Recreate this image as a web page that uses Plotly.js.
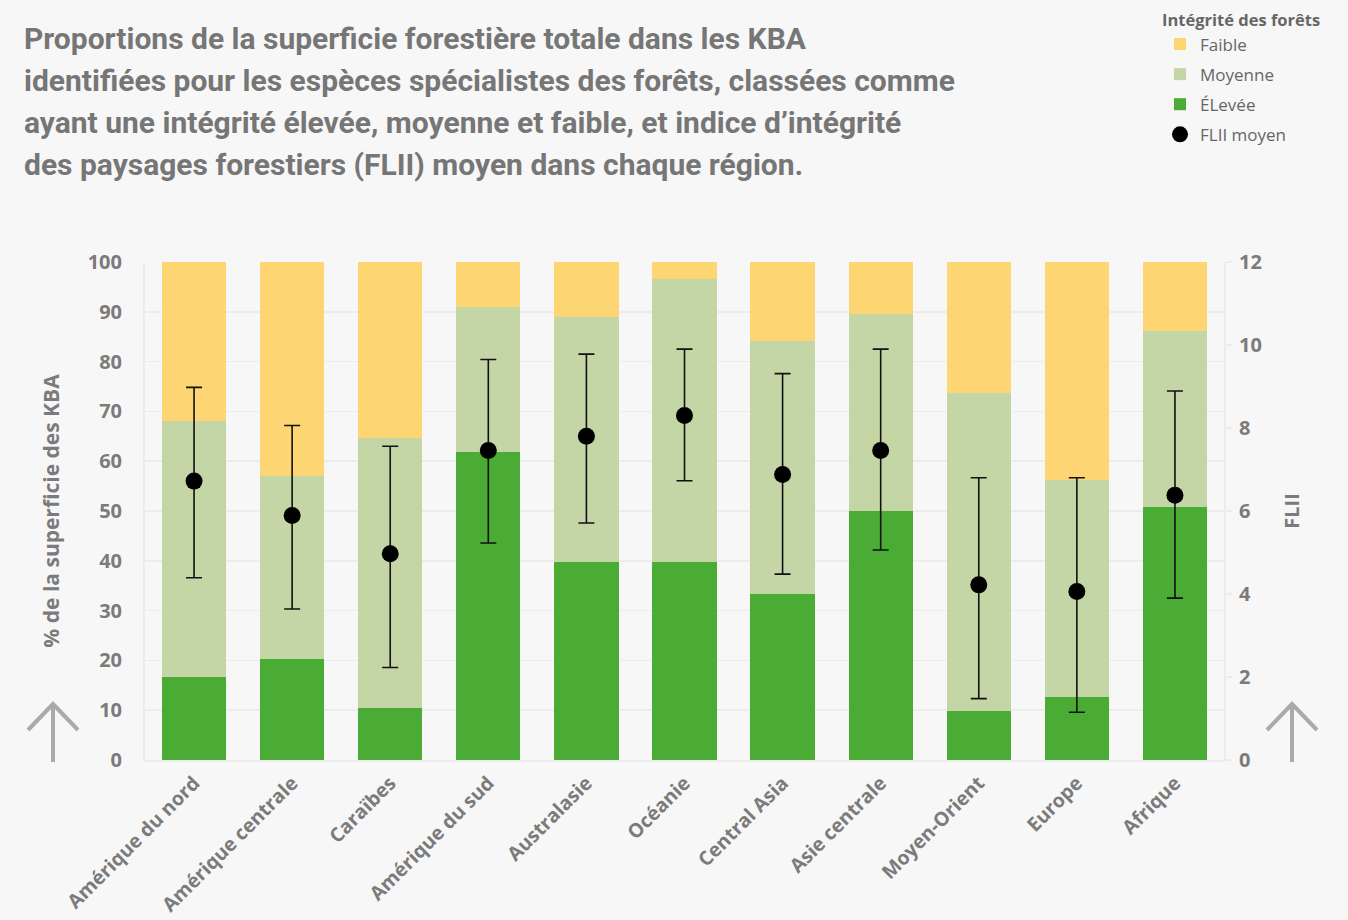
<!DOCTYPE html>
<html>
<head>
<meta charset="utf-8">
<script src="https://cdn.plot.ly/plotly-3.0.1.min.js"></script>
<style>
  html, body { margin: 0; padding: 0; background: #f7f7f7; }
  #chart { width: 1348px; height: 920px; }
</style>
</head>
<body>
<div id="chart"></div>
<script>
// ---- Data ----
const regions = ['Amérique du nord', 'Amérique centrale', 'Caraïbes', 'Amérique du sud', 'Australasie', 'Océanie', 'Central Asia', 'Asie centrale', 'Moyen-Orient', 'Europe', 'Afrique'];
const elevee  = [16.7, 20.3, 10.5, 61.9, 39.7, 39.7, 33.4, 50.1, 9.8, 12.7, 50.8];
const moyenne = [51.4, 36.8, 54.2, 29.1, 49.3, 56.9, 50.7, 39.5, 63.9, 43.6, 35.4];
const faible  = [31.9, 42.9, 35.3, 9.0, 11.0, 3.4, 15.9, 10.4, 26.3, 43.7, 13.8];
const flii      = [6.72, 5.89, 4.97, 7.46, 7.80, 8.30, 6.88, 7.46, 4.22, 4.06, 6.38];
const fliiHigh  = [8.98, 8.06, 7.56, 9.65, 9.78, 9.90, 9.31, 9.90, 6.80, 6.80, 8.89];
const fliiLow   = [4.39, 3.64, 2.23, 5.23, 5.71, 6.73, 4.48, 5.06, 1.48, 1.15, 3.90];
const titleLines = [
  'Proportions de la superficie forestière totale dans les KBA',
  'identifiées pour les espèces spécialistes des forêts, classées comme',
  'ayant une intégrité élevée, moyenne et faible, et indice d’intégrité',
  'des paysages forestiers (FLII) moyen dans chaque région.'
];
const leftTicks = [0, 10, 20, 30, 40, 50, 60, 70, 80, 90, 100];
const rightTicks = [0, 2, 4, 6, 8, 10, 12];

// ---- Styles ----
const FONT = '"Open Sans", "Noto Sans", sans-serif';
const TITLE_FONT = 'Roboto, "Open Sans", sans-serif';
const GREY = '#7b7b7b';

const errPlus = flii.map((v, i) => +(fliiHigh[i] - v).toFixed(3));
const errMinus = flii.map((v, i) => +(v - fliiLow[i]).toFixed(3));

const traces = [
  { type: 'bar', name: 'ÉLevée', x: regions, y: elevee, marker: { color: '#4aab35' }, legendrank: 3, legendgroup: 'c', hoverinfo: 'y' },
  { type: 'bar', name: 'Moyenne', x: regions, y: moyenne, marker: { color: '#c5d6a6' }, legendrank: 2, legendgroup: 'b', hoverinfo: 'y' },
  { type: 'bar', name: 'Faible', x: regions, y: faible, marker: { color: '#fdd673' }, legendrank: 1, legendgroup: 'a', hoverinfo: 'y' },
  {
    type: 'scatter', mode: 'markers', name: 'FLII moyen', x: regions, y: flii, yaxis: 'y2',
    marker: { color: '#000000', size: 17 },
    error_y: { type: 'data', symmetric: false, array: errPlus, arrayminus: errMinus, color: '#111111', thickness: 1.6, width: 8 },
    legendrank: 4, legendgroup: 'd'
  }
];

// Pixel -> paper helpers for the fixed plot frame
const plotLeft = 145, plotRight = 1224, plotTop = 262, plotBottom = 760;
const plotW = plotRight - plotLeft, plotH = plotBottom - plotTop;
const px = v => (v - plotLeft) / plotW;
const py = v => (plotBottom - v) / plotH;

const lineCentres = [38.5, 80.5, 122.5, 164.5];
const annotations = titleLines.map((t, i) => ({
  text: t, xref: 'paper', yref: 'paper',
  x: px(22), xanchor: 'left',
  y: py(lineCentres[i]), yanchor: 'middle',
  showarrow: false, align: 'left',
  font: { family: TITLE_FONT, size: 30, color: '#767676', weight: 700 }
}));

function arrowPath(cx, apexY, armDx, armY, bottomY) {
  return `M ${px(cx)} ${py(bottomY)} L ${px(cx)} ${py(apexY)} M ${px(cx - armDx)} ${py(armY)} L ${px(cx)} ${py(apexY)} L ${px(cx + armDx)} ${py(armY)}`;
}
const shapes = [
  { type: 'path', xref: 'paper', yref: 'paper', path: arrowPath(53, 704, 25, 730, 762), line: { color: '#aaaaaa', width: 4 } },
  { type: 'path', xref: 'paper', yref: 'paper', path: arrowPath(1292, 704, 25, 730, 762), line: { color: '#aaaaaa', width: 4 } }
];

const layout = {
  width: 1348, height: 920,
  paper_bgcolor: '#f7f7f7', plot_bgcolor: '#f7f7f7',
  margin: { l: plotLeft, r: 1348 - plotRight, t: plotTop, b: 920 - plotBottom },
  barmode: 'stack', bargap: 0.345,
  showlegend: true,
  font: { family: FONT, color: GREY },
  legend: {
    xref: 'paper', yref: 'container', x: px(1160), xanchor: 'left', y: 1 - 5 / 920, yanchor: 'top',
    traceorder: 'grouped', tracegroupgap: 5,
    title: { text: 'Intégrité des forêts', font: { family: FONT, size: 16.5, color: '#666666', weight: 700 } },
    font: { family: FONT, size: 17, color: '#666666' },
    bgcolor: 'rgba(0,0,0,0)', itemwidth: 30
  },
  xaxis: {
    type: 'category', range: [-0.5, regions.length - 0.5], tickangle: -45, automargin: false,
    tickfont: { family: FONT, size: 19.5, color: GREY, weight: 700 },
    showline: true, linecolor: '#ececec', linewidth: 2,
    ticks: '', ticklabelstandoff: 2, showgrid: false, zeroline: false
  },
  yaxis: {
    range: [0, 100], tickvals: leftTicks, ticktext: leftTicks.map(String), automargin: false,
    tickfont: { family: FONT, size: 20, color: GREY, weight: 700 },
    showgrid: true, gridcolor: '#ececec', gridwidth: 1.5,
    showline: true, linecolor: '#ececec', linewidth: 2, zeroline: false,
    ticks: '', ticklabelstandoff: 17,
    title: { text: '% de la superficie des KBA', font: { family: FONT, size: 21, color: GREY, weight: 700 }, standoff: 22 }
  },
  yaxis2: {
    overlaying: 'y', side: 'right', range: [0, 12], tickvals: rightTicks, ticktext: rightTicks.map(String), automargin: false,
    tickfont: { family: FONT, size: 20, color: GREY, weight: 700 },
    showgrid: false, zeroline: false,
    showline: true, linecolor: '#ececec', linewidth: 2,
    ticks: 'outside', ticklen: 6, tickwidth: 2, tickcolor: '#ececec', ticklabelstandoff: 3,
    title: { text: 'FLII', font: { family: FONT, size: 20, color: GREY, weight: 700 }, standoff: 24 }
  },
  annotations: annotations,
  shapes: shapes
};

Plotly.newPlot('chart', traces, layout, { displayModeBar: false, staticPlot: true });
</script>
</body>
</html>
